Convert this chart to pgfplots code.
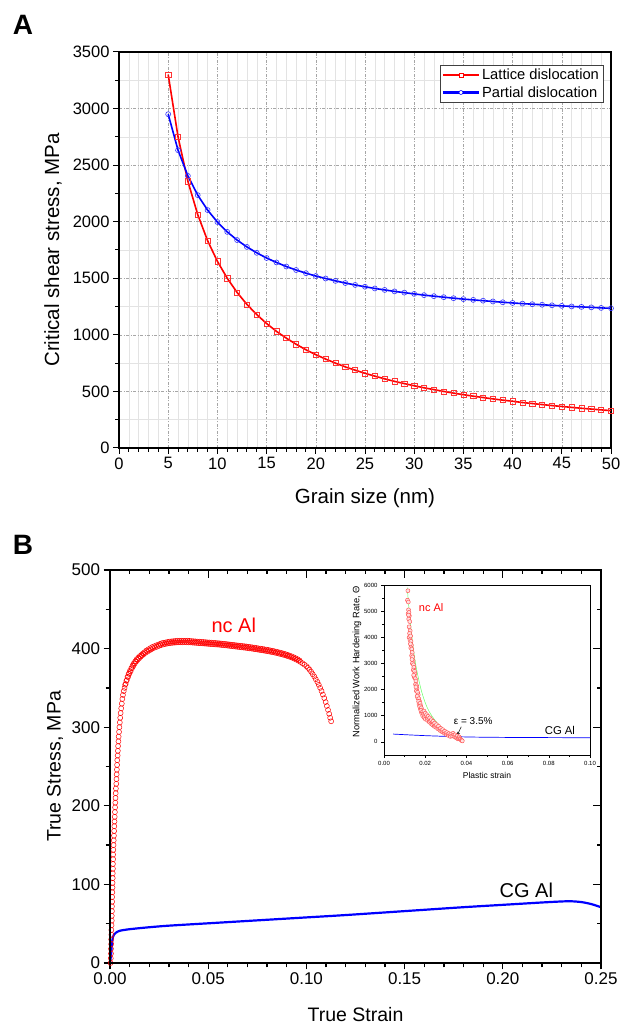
\documentclass[border=0pt]{standalone}
\usepackage{fontspec}
\setmainfont{Liberation Sans}
\usepackage{pgfplots}
\usepackage{pgfplotstable}
\pgfplotsset{compat=1.18}

\pgfplotstableread{
d lattice partial
5 3300 2950
6 2750 2632
7 2357 2405
8 2063 2235
9 1833 2103
10 1650 1997
11 1500 1910
12 1375 1838
13 1269 1777
14 1179 1725
15 1100 1679
16 1031 1640
17 971 1604
18 917 1573
19 868 1545
20 825 1520
21 786 1498
22 750 1477
23 717 1458
24 688 1441
25 660 1425
26 635 1410
27 611 1397
28 589 1384
29 569 1373
30 550 1362
31 532 1351
32 516 1342
33 500 1333
34 485 1324
35 471 1316
36 458 1309
37 446 1302
38 434 1295
39 423 1288
40 413 1282
41 402 1276
42 393 1271
43 384 1266
44 375 1261
45 367 1256
46 359 1251
47 351 1247
48 344 1243
49 337 1238
50 330 1235
}\tableA

\pgfplotstableread{
e s
0.0003 0
0.0004 6
0.0005 12
0.0005 18
0.0006 24
0.0006 30
0.0007 36
0.0007 42
0.0008 48
0.0009 54
0.0009 60
0.0010 66
0.0010 72
0.0011 78
0.0011 84
0.0012 90
0.0013 96
0.0013 102
0.0014 108
0.0014 114
0.0015 120
0.0015 126
0.0016 132
0.0016 138
0.0017 144
0.0018 150
0.0019 156
0.0020 162
0.0021 168
0.0022 174
0.0023 180
0.0024 186
0.0025 192
0.0026 198
0.0027 204
0.0028 210
0.0029 216
0.0030 222
0.0032 228
0.0033 234
0.0034 240
0.0035 246
0.0036 252
0.0037 258
0.0039 264
0.0040 270
0.0041 276
0.0043 282
0.0044 288
0.0046 294
0.0048 300
0.0050 306
0.0052 312
0.0054 318
0.0057 324
0.0060 330
0.0063 336
0.0066 341
0.0070 346
0.0074 350
0.0077 354
0.0080 355
0.0083 359
0.0086 360
0.0089 364
0.0092 364
0.0095 368
0.0098 368
0.0101 371.5
0.0105 371
0.0108 375
0.0112 375
0.0115 378.5
0.0119 378
0.0122 381.5
0.0126 381
0.0129 384
0.0133 383.5
0.0136 386.5
0.0140 385.5
0.0144 388.5
0.0148 387.5
0.0152 390.5
0.0156 389.5
0.0160 392
0.0164 391.5
0.0168 394
0.0172 393
0.0176 395.5
0.0180 394.5
0.0185 397.5
0.0190 396
0.0195 399
0.0200 397.5
0.0205 400.5
0.0210 399
0.0215 402
0.0220 400.5
0.0225 403
0.0230 401.5
0.0235 404
0.0240 402.5
0.0245 405
0.0250 403.5
0.0255 406
0.0260 404.5
0.0265 407
0.0270 405.2
0.0275 407.5
0.0280 405.8
0.0285 408
0.0290 406.3
0.0295 408.5
0.0300 406.8
0.0305 409
0.0310 407.1
0.0315 409.3
0.0320 407.4
0.0325 409.5
0.0330 407.6
0.0335 409.7
0.0340 407.8
0.0345 410
0.0350 408
0.0355 410
0.0360 408
0.0365 410
0.0370 408
0.0375 410
0.0380 408.1
0.0385 410
0.0390 408
0.0395 410
0.0400 407.9
0.0405 409.8
0.0410 407.8
0.0415 409.6
0.0420 407.6
0.0425 409.4
0.0430 407.4
0.0435 409.2
0.0440 407.2
0.0445 409
0.0450 407.0
0.0455 408.8
0.0460 406.8
0.0465 408.6
0.0470 406.6
0.0475 408.4
0.0480 406.4
0.0485 408.2
0.0490 406.2
0.0495 408
0.0500 406.0
0.0505 407.8
0.0510 405.8
0.0515 407.6
0.0520 405.6
0.0525 407.4
0.0530 405.4
0.0535 407.2
0.0540 405.2
0.0545 407
0.0550 405.0
0.0555 406.8
0.0560 404.8
0.0565 406.5
0.0570 404.5
0.0575 406.2
0.0580 404.2
0.0585 406
0.0590 404.0
0.0595 405.7
0.0600 403.7
0.0605 405.4
0.0610 403.4
0.0615 405.1
0.0620 403.1
0.0625 404.8
0.0630 402.8
0.0635 404.5
0.0640 402.5
0.0645 404.2
0.0650 402.2
0.0655 403.9
0.0660 401.9
0.0665 403.6
0.0670 401.6
0.0675 403.3
0.0680 401.3
0.0685 403
0.0690 401.0
0.0695 402.7
0.0700 400.7
0.0705 402.3
0.0710 400.3
0.0715 402
0.0720 400.0
0.0725 401.6
0.0730 399.6
0.0735 401.2
0.0740 399.2
0.0745 400.8
0.0750 398.8
0.0755 400.4
0.0760 398.4
0.0765 400
0.0770 398.0
0.0775 399.6
0.0780 397.6
0.0785 399.2
0.0790 397.2
0.0795 398.8
0.0800 396.8
0.0805 398.3
0.0810 396.3
0.0815 397.8
0.0820 395.8
0.0825 397.3
0.0830 395.3
0.0835 396.8
0.0840 394.8
0.0845 396.2
0.0850 394.2
0.0855 395.6
0.0860 393.6
0.0865 395
0.0870 393.0
0.0875 394.3
0.0880 392.3
0.0885 393.6
0.0890 391.6
0.0895 392.8
0.0900 390.8
0.0905 392
0.0910 390.0
0.0915 391.1
0.0920 389.1
0.0925 390.1
0.0930 388.1
0.0935 389
0.0940 387.0
0.0945 387.8
0.0950 385.8
0.0955 386.5
0.0960 384.5
0.0965 385
0.0970 383.0
0.0980 381.4
0.0990 379.6
0.1000 377.6
0.1008 375.5
0.1016 373.2
0.1024 370.5
0.1032 367.5
0.1040 364.5
0.1048 361
0.1056 357.5
0.1063 354
0.1070 350
0.1077 346
0.1084 341.5
0.1091 337
0.1098 332
0.1104 327
0.1110 322
0.1116 317
0.1121 312
0.1126 307.5
}\ncAl

\pgfplotstableread{
e s
0 0
0.0005 10
0.001 25
0.0015 33
0.002 36
0.003 38.5
0.005 41
0.01 43
0.02 45.5
0.03 47.5
0.05 50.5
0.07 53.5
0.10 58
0.12 61
0.15 66
0.18 71
0.20 74
0.21 75.5
0.22 77
0.23 78.3
0.235 78.5
0.24 77.5
0.245 75
0.25 71
}\cgAl

\pgfplotstableread{
x y
0.0116 5780
0.0114 5420
0.0118 5350
0.0119 5050
0.0117 4900
0.0121 4950
0.0123 4820
0.0120 4700
0.0119 4850
0.0125 4600
0.0122 4400
0.0127 4250
0.0124 4150
0.0122 4000
0.0129 4050
0.0126 3900
0.0131 3850
0.0133 3700
0.0130 3600
0.0128 3750
0.0135 3550
0.0137 3420
0.0134 3300
0.0139 3250
0.0141 3100
0.0138 3000
0.0136 3150
0.0143 2950
0.0145 2850
0.0142 2750
0.0148 2700
0.0150 2600
0.0147 2480
0.0144 2550
0.0152 2420
0.0155 2330
0.0153 2200
0.0158 2150
0.0160 2050
0.0157 1950
0.0155 2100
0.0163 1900
0.0166 1800
0.0164 1680
0.0161 1750
0.0169 1650
0.0172 1560
0.0170 1450
0.0168 1550
0.0175 1480
0.0178 1380
0.0176 1280
0.0173 1350
0.0181 1300
0.0184 1220
0.0182 1120
0.0179 1200
0.0187 1150
0.0190 1080
0.0188 1000
0.0194 1180
0.0197 1020
0.0195 930
0.0200 1100
0.0203 950
0.0201 870
0.0207 1040
0.0210 900
0.0212 820
0.0214 980
0.0218 860
0.0220 760
0.0222 920
0.0226 800
0.0228 700
0.0230 850
0.0234 740
0.0236 650
0.0238 790
0.0242 680
0.0244 600
0.0246 720
0.0250 620
0.0252 560
0.0255 660
0.0260 560
0.0262 500
0.0265 600
0.0270 500
0.0272 440
0.0275 520
0.0280 440
0.0282 390
0.0285 470
0.0290 380
0.0292 340
0.0295 410
0.0300 330
0.0302 290
0.0305 360
0.0310 290
0.0312 250
0.0315 320
0.0320 250
0.0322 210
0.0325 300
0.0330 230
0.0335 330
0.0338 260
0.0340 210
0.0345 270
0.0348 170
0.0350 180
0.0355 230
0.0358 120
0.0360 150
0.0365 190
0.0368 130
0.0370 100
0.0375 70
0.0378 50
0.0380 40
}\inset

\begin{document}
\begin{tikzpicture}[x=1pt,y=1pt]
\path[use as bounding box] (0,0) rectangle (630,1025);
\node[font=\fontsize{28}{28}\selectfont\bfseries] at (23,1000) {A};
\node[font=\fontsize{28}{28}\selectfont\bfseries] at (23,480) {B};

% ---------------- Panel A
\begin{axis}[
  at={(119pt,577pt)}, anchor=south west, scale only axis,
  width=492pt, height=396pt,
  xmin=0, xmax=50, ymin=0, ymax=3500,
  xtick={0,5,...,50}, ytick={0,500,...,3500},
  minor x tick num=4, minor y tick num=1,
  tick align=outside, xtick pos=left, ytick pos=left,
  major tick length=6pt, minor tick length=4pt,
  every tick/.style={black, line width=1pt},
  axis line style={line width=1.6pt},
  grid=both,
  major grid style={gray!70, dash pattern=on 3pt off 1.5pt on 1pt off 1.5pt, line width=0.6pt},
  minor grid style={gray!22, line width=0.5pt},
  ticklabel style={font=\fontsize{16.5}{16.5}\selectfont},
  /pgf/number format/assume math mode=true,
  /pgf/number format/1000 sep={},
  scaled ticks=false,
  xlabel={Grain size (nm)}, ylabel={Critical shear stress, MPa},
  label style={font=\fontsize{20.5}{20.5}\selectfont},
  xlabel style={at={(axis description cs:0.5,-0.126)}, anchor=center},
  ylabel style={at={(axis description cs:-0.134,0.5)}, anchor=center},
  legend style={at={(0.984,0.967)}, anchor=north east,
    font=\fontsize{14.7}{16}\selectfont, draw=black!75,
    inner xsep=2pt, inner ysep=2pt, row sep=1pt},
  legend cell align=left,
  legend image code/.code={%
    \draw[#1, mark=none, line width=2.2pt] (0pt,0pt) -- (36pt,0pt);
    \draw[#1, draw=none] plot coordinates {(18pt,0pt)};},
]
\addlegendimage{draw=red, color=red, mark=square*, mark size=2pt, mark options={solid, fill=white, draw=red, line width=0.6pt}}
\addlegendentry{Lattice dislocation}
\addlegendimage{draw=blue, color=blue, mark=*, mark size=2pt, mark options={solid, fill=white, draw=blue, line width=0.6pt}}
\addlegendentry{Partial dislocation}
\addplot[red, line width=1.6pt, mark=square, mark size=2.6pt,
  mark options={solid, fill=white, line width=0.6pt, draw=red!80}, forget plot] table[x=d, y=lattice] {\tableA};
\addplot[blue, line width=1.6pt, mark=o, mark size=2.5pt,
  mark options={solid, fill=white, line width=0.6pt, draw=blue!80}, forget plot] table[x=d, y=partial] {\tableA};
\end{axis}

% ---------------- Panel B (main)
\begin{axis}[
  at={(110pt,62pt)}, anchor=south west, scale only axis,
  width=491pt, height=393pt,
  xmin=0, xmax=0.25, ymin=0, ymax=500,
  xtick={0,0.05,0.1,0.15,0.2,0.25}, ytick={0,100,...,500},
  minor x tick num=4, minor y tick num=1,
  tick align=outside, xtick pos=left, ytick pos=left,
  major tick length=6.5pt, minor tick length=4.5pt,
  every tick/.style={black, line width=1.3pt},
  axis line style={line width=2pt},
  ticklabel style={font=\fontsize{17}{17}\selectfont},
  /pgf/number format/assume math mode=true,
  /pgf/number format/1000 sep={},
  scaled ticks=false,
  xticklabel style={/pgf/number format/.cd, fixed, fixed zerofill, precision=2},
  xlabel={True Strain}, ylabel={True Stress, MPa},
  label style={font=\fontsize{19.5}{19.5}\selectfont},
  xlabel style={at={(axis description cs:0.5,-0.132)}, anchor=center},
  ylabel style={at={(axis description cs:-0.112,0.5)}, anchor=center},
]
\addplot[red, only marks, mark=o, mark size=2.5pt, mark options={line width=0.5pt}] table[x=e, y=s] {\ncAl};
\addplot[blue, line width=2.2pt, smooth] table[x=e, y=s] {\cgAl};
\node[red, font=\fontsize{20}{20}\selectfont] at (axis cs:0.063,430) {nc Al};
\node[black, font=\fontsize{20}{20}\selectfont] at (axis cs:0.212,93) {CG Al};
\end{axis}

% ---------------- Panel B (top/right inner ticks)
\begin{axis}[
  at={(110pt,62pt)}, anchor=south west, scale only axis,
  width=491pt, height=393pt,
  xmin=0, xmax=0.25, ymin=0, ymax=500,
  xtick={0,0.05,0.1,0.15,0.2,0.25}, ytick={0,100,...,500},
  minor x tick num=4, minor y tick num=1,
  tick align=inside, xtick pos=right, ytick pos=right,
  major tick length=8pt, minor tick length=4pt,
  every tick/.style={black, line width=1.3pt},
  axis line style={line width=2pt},
  xticklabels={}, yticklabels={},
]
\addplot[draw=none] coordinates {(0,0)};
\end{axis}

% ---------------- Inset
\begin{axis}[
  at={(384pt,270pt)}, anchor=south west, scale only axis,
  width=206pt, height=170pt,
  xmin=0, xmax=0.1, ymin=-500, ymax=6000,
  xtick={0,0.02,0.04,0.06,0.08,0.1}, ytick={0,1000,...,6000},
  minor x tick num=1, minor y tick num=1,
  tick align=outside, xtick pos=left, ytick pos=left,
  major tick length=3pt, minor tick length=2pt,
  every tick/.style={black, line width=0.6pt},
  axis line style={line width=0.6pt},
  axis background/.style={fill=white},
  ticklabel style={font=\fontsize{6}{6}\selectfont},
  /pgf/number format/assume math mode=true,
  /pgf/number format/1000 sep={},
  scaled ticks=false,
  xticklabel style={/pgf/number format/.cd, fixed, fixed zerofill, precision=2},
  xlabel={Plastic strain}, ylabel={Normalized Work Hardening Rate, Θ},
  xlabel style={font=\fontsize{8.5}{8.5}\selectfont, at={(axis description cs:0.5,-0.118)}, anchor=center},
  ylabel style={font=\fontsize{9.3}{9.3}\selectfont, at={(axis description cs:-0.131,0.547)}, anchor=center},
]
\addplot[blue, line width=0.7pt, smooth] coordinates {(0.0044,300) (0.02,240) (0.04,190) (0.06,172) (0.08,165) (0.10,160)};
\addplot[green!60, line width=0.5pt, smooth] coordinates {(0.0113,5900) (0.012,5200) (0.013,4400) (0.014,3700) (0.015,3150) (0.016,2700) (0.018,2000) (0.02,1500) (0.022,1150) (0.025,800) (0.028,550) (0.031,350) (0.034,220) (0.037,120)};
\addplot[only marks, mark=*, mark size=2pt, mark options={draw=red!70, fill=red!12, line width=0.45pt}] table[x=x, y=y] {\inset};
\node[red, font=\fontsize{11}{11}\selectfont] at (axis cs:0.0229,5120) {nc Al};
\node[black, font=\fontsize{10}{10}\selectfont] at (axis cs:0.0433,790) {ε = 3.5\%};
\draw[-stealth, line width=0.5pt] (axis cs:0.0375,580) -- (axis cs:0.0355,250);
\node[black, font=\fontsize{11.3}{11.3}\selectfont] at (axis cs:0.0854,420) {CG Al};
\end{axis}
\end{tikzpicture}
\end{document}
